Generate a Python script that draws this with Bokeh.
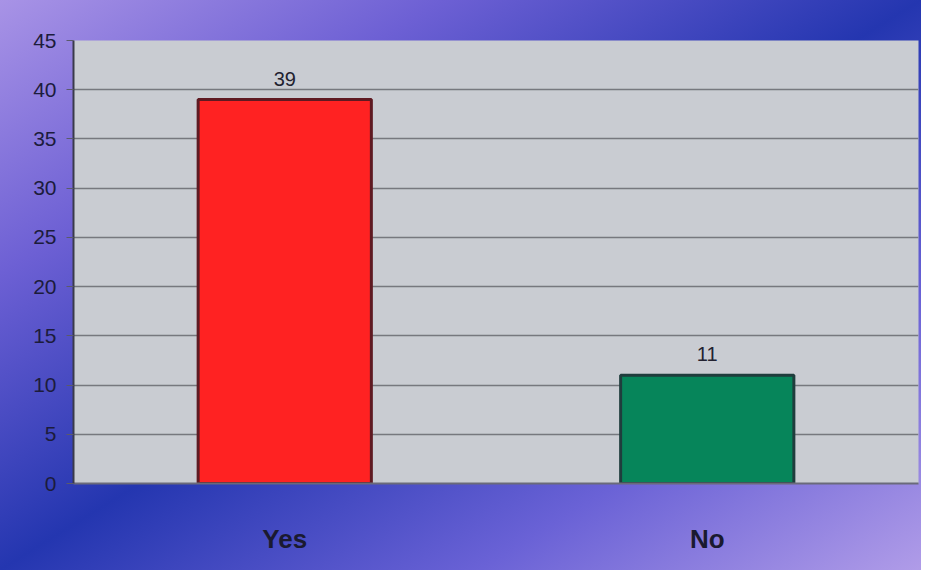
from bokeh.plotting import figure
from bokeh.models import ColumnDataSource, InlineStyleSheet, FixedTicker, LabelSet
from bokeh.core.properties import value
from bokeh.embed import file_html
from bokeh.resources import INLINE

categories = ["Yes", "No"]
values = [39, 11]
fill_colors = ["#ff2222", "#06855a"]
edge_colors = ["#5e1a22", "#1f3d3d"]
y_ticks = [0, 5, 10, 15, 20, 25, 30, 35, 40, 45]

src = ColumnDataSource(dict(cat=categories, val=values, fill=fill_colors,
                            edge=edge_colors, lab=[str(v) for v in values]))

p = figure(x_range=categories, y_range=(0, 45), width=921, height=570,
           output_backend="svg", toolbar_location=None,
           min_border_left=73, min_border_right=3, min_border_top=40,
           min_border_bottom=87)

p.stylesheets = [InlineStyleSheet(css=""":host {
  background: linear-gradient(to bottom right, #a893e6 0%, #6d60d4 24%, #2436b0 50%, #6a62d6 76%, #b09ce8 100%);
}""")]
p.border_fill_color = None
p.background_fill_color = "#c9ccd2"
p.outline_line_color = None

p.vbar(x="cat", top="val", width=0.41, source=src, fill_color="fill",
       line_color="edge", line_width=3)

labels = LabelSet(x="cat", y="val", text="lab", source=src, text_align="center",
                  text_baseline="bottom", y_offset=14, text_font_size="20px",
                  text_color="#222230", text_font=value("Liberation Sans"))
p.add_layout(labels)

p.yaxis.ticker = FixedTicker(ticks=y_ticks)
p.yaxis.major_label_text_font = "Liberation Sans"
p.yaxis.major_label_text_font_size = "21px"
p.yaxis.major_label_text_color = "#1c1c3c"
p.yaxis.axis_line_color = "#3a3a4a"
p.yaxis.axis_line_width = 2
p.yaxis.major_tick_line_color = "#5a5a6a"
p.yaxis.major_tick_out = 7
p.yaxis.major_tick_in = 0
p.yaxis.minor_tick_line_color = None
p.yaxis.major_label_standoff = 10

p.xaxis.major_label_text_font = "Liberation Sans"
p.xaxis.major_label_text_font_style = "bold"
p.xaxis.major_label_text_font_size = "26px"
p.xaxis.major_label_text_color = "#1a1a30"
p.xaxis.major_label_standoff = 34
p.xaxis.major_tick_line_color = None
p.xaxis.axis_line_color = "#6a6a7a"
p.xaxis.axis_line_width = 2

p.xgrid.grid_line_color = None
p.ygrid.grid_line_color = "#76787e"
p.ygrid.grid_line_width = 1.5
p.ygrid.ticker = FixedTicker(ticks=y_ticks)

open("out.html", "w").write(file_html(p, INLINE))
